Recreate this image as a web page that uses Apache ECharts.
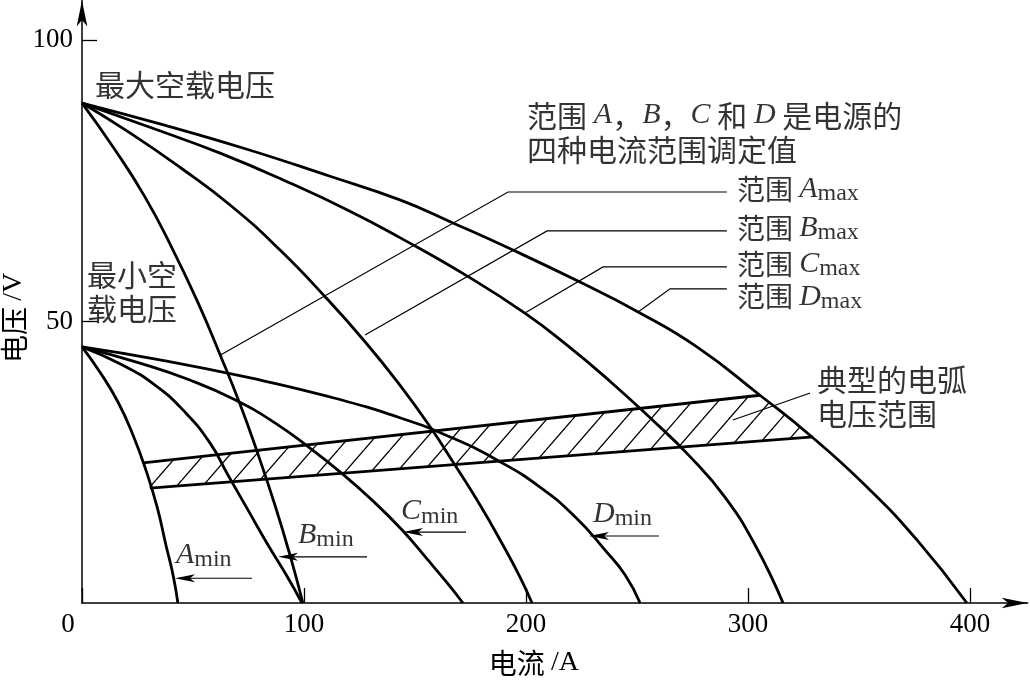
<!DOCTYPE html>
<html>
<head>
<meta charset="utf-8">
<script src="https://cdn.jsdelivr.net/npm/echarts@6.0.0/dist/echarts.min.js"></script>
<style>
html,body{margin:0;padding:0;background:#fff;}
#chart{width:1030px;height:683px;}
</style>
</head>
<body>
<div id="chart"></div>
<script>
// ---- tick labels ----
const xTickValues = [0, 100, 200, 300, 400];
const yTickValues = [50, 100];

// ---- power-source characteristics: current (A) / voltage (V) ----
const aMaxX = [0, 14, 28.4, 41, 52.3, 62.2, 71.2, 79.3, 86.9, 93.7, 99.5];
const aMaxY = [88.8, 81, 72.1, 62.7, 53.3, 44.1, 35.3, 26.4, 17.4, 8.5, 0];
const bMaxX = [0, 21.6, 44.1, 66.7, 89.2, 109.5, 127.5, 143.2, 156.8, 168, 179.3, 189.6, 197.3, 202.7];
const bMaxY = [88.8, 83.5, 77.4, 70.7, 62.7, 54.4, 46.4, 38.7, 31.3, 24.5, 17.4, 10.3, 4.6, 0];
const cMaxX = [0, 30.6, 62.2, 93.7, 120.7, 143.2, 173.4, 199.5, 218.5, 237.8, 255.9, 273.9, 289.6, 303.2, 315.8];
const cMaxY = [88.8, 84.5, 79.9, 74.6, 69.6, 64.9, 58.1, 51.5, 45.8, 39.4, 32.9, 26.0, 18.8, 10.3, 0];
const dMaxX = [0, 35.1, 74.3, 111.7, 143.2, 167.1, 194.1, 224.3, 250.5, 277, 305.4, 327.9, 353.6, 376.1, 398.6];
const dMaxY = [88.8, 85.1, 80.6, 75.8, 71.6, 67.5, 62.7, 57.0, 51.7, 45.5, 36.9, 29.8, 20.6, 11.2, 0];
const aMinX = [0, 8.1, 16.2, 23, 28.8, 33.8, 37.8, 41, 43.2];
const aMinY = [45.5, 41, 35.7, 29.8, 23.6, 17.1, 10.3, 5, 0];
const bMinX = [0, 17.1, 32.9, 46.4, 57.7, 65.8, 74.8, 83.8, 92.3, 99.1];
const bMinY = [45.5, 42.5, 38.7, 33.9, 28.4, 22.7, 16.5, 10.3, 4.8, 0];
const cMinX = [0, 26.1, 48.6, 68.9, 86.9, 102.7, 116.2, 130.6, 144.1, 155.9, 164.4, 171.6];
const cMinY = [45.5, 42.6, 39.6, 36.1, 32, 27.5, 23.3, 18.3, 13, 7.6, 3.6, 0];
const dMinX = [0, 35.1, 74.3, 111.7, 143.2, 165.8, 186.9, 206.3, 222.1, 235.6, 244.6, 251.4];
const dMinY = [45.5, 43.2, 40.1, 36.6, 32.9, 29.5, 25.4, 20.6, 15.3, 9.4, 5, 0];

// ---- typical arc-voltage band ----
const bandUpperX = [27.5, 305.4];
const bandUpperY = [24.9, 36.9];
const bandLowerX = [30.6, 329.3];
const bandLowerY = [20.4, 29.5];

// ---- annotation leader lines (data coordinates) ----
const leaderAmax = [[62.2, 44.0], [191.9, 73.0], [290.5, 73.0]];
const leaderBmax = [[127.5, 47.6], [209.5, 66.1], [290.5, 66.1]];
const leaderCmax = [[199.5, 51.5], [234.7, 59.7], [290.5, 59.7]];
const leaderDmax = [[250.5, 51.7], [264.9, 55.8], [290.5, 55.8]];
const leaderBand = [[293.2, 32.5], [328.0, 37.3]];
// min-setting arrows: [fromX, fromY, toX, toY]
const minArrows = [[76.6, 4.4, 41.9, 4.4], [128.4, 8.2, 88.3, 8.2], [173.0, 12.6, 144.6, 12.6], [259.9, 11.9, 228.4, 11.9]];

const zip = (xs, ys) => xs.map((x, i) => [x, ys[i]]);
const CJK = '"Noto Sans CJK SC"';
const SERIF = '"Liberation Serif"';

const rich = {
  h: {fontFamily: CJK, fontSize: 30, lineHeight: 34, color: '#000'},
  r: {fontFamily: CJK, fontSize: 28, lineHeight: 34, color: '#000'},
  i: {fontFamily: SERIF, fontStyle: 'italic', fontSize: 30, lineHeight: 34, color: '#000'},
  s: {fontFamily: SERIF, fontSize: 24, lineHeight: 18, verticalAlign: 'bottom', color: '#000'}
};

function hatchCanvas() {
  const w = 26, h = 30;
  const c = document.createElement('canvas');
  c.width = w; c.height = h;
  const g = c.getContext('2d');
  g.strokeStyle = '#000';
  g.lineWidth = 1.3;
  for (const dx of [-w, 0, w]) {
    g.beginPath(); g.moveTo(dx, h); g.lineTo(dx + w, 0); g.stroke();
  }
  return c;
}
const hatch = hatchCanvas();

const bandPoly = [
  [bandUpperX[0], bandUpperY[0]], [bandUpperX[1], bandUpperY[1]],
  [bandLowerX[1], bandLowerY[1]], [bandLowerX[0], bandLowerY[0]]
];

const curveStyle = {color: '#000', width: 2.8};
function curve(name, xs, ys) {
  return {
    name, type: 'line', data: zip(xs, ys), smooth: 0.5, showSymbol: false, symbol: 'none',
    lineStyle: curveStyle, z: 4, silent: true
  };
}

const last = arr => arr[arr.length - 1];
const notes = [
  {value: [5.9, 92.0], label: {formatter: '{h|最大空载电压}'}},
  {value: [2.3, 55.4], label: {formatter: '{h|最小空}\n{h|载电压}'}},
  {value: [200.5, 83.6], label: {formatter: '{h|范围 }{i|A}{h|，}{i|B}{h|，}{i|C}{h| 和 }{i|D}{h| 是电源的}\n{h|四种电流范围调定值}'}},
  {value: last(leaderAmax), label: {formatter: '{r|范围 }{i|A}{s|max}', offset: [10, -3]}},
  {value: last(leaderBmax), label: {formatter: '{r|范围 }{i|B}{s|max}', offset: [10, -3]}},
  {value: last(leaderCmax), label: {formatter: '{r|范围 }{i|C}{s|max}', offset: [10, -3]}},
  {value: last(leaderDmax), label: {formatter: '{r|范围 }{i|D}{s|max}', offset: [10, 8]}},
  {value: [331.1, 36.7], label: {formatter: '{h|典型的电弧}\n{h|电压范围}'}},
  {value: [42.3, 8.5], label: {formatter: '{i|A}{s|min}'}},
  {value: [97.3, 12.1], label: {formatter: '{i|B}{s|min}'}},
  {value: [143.7, 16.3], label: {formatter: '{i|C}{s|min}'}},
  {value: [230.2, 15.8], label: {formatter: '{i|D}{s|min}'}}
];

const chart = echarts.init(document.getElementById('chart'), null, {renderer: 'canvas'});
const X_MAX = 426, Y_MAX = 107;
const axisFont = {fontFamily: SERIF, fontSize: 27, color: '#000'};
const nameRich = {
  c: {fontFamily: CJK, fontSize: 28, lineHeight: 30, color: '#000'},
  l: {fontFamily: SERIF, fontSize: 28, lineHeight: 30, color: '#000'}
};

chart.setOption({
  animation: false,
  backgroundColor: '#fff',
  grid: {left: 82, right: 2.3, top: 0.6, bottom: 80, containLabel: false, outerBoundsMode: 'none'},
  xAxis: {
    type: 'value', min: 0, max: X_MAX,
    splitLine: {show: false},
    axisLine: {show: true, lineStyle: {color: '#000', width: 1.5}, symbol: ['none', 'arrow'], symbolSize: [8, 26]},
    axisTick: {show: true, inside: true, length: 15, customValues: xTickValues, lineStyle: {color: '#000', width: 1.3}},
    axisLabel: {
      show: true, margin: 8, customValues: xTickValues, ...axisFont,
      formatter: v => v === 0 ? '{z|0}' : String(v),
      rich: {z: {...axisFont, padding: [0, 28, 0, 0]}}
    },
    name: '{c|电流 }{l|/A}', nameLocation: 'middle', nameGap: 45, nameMoveOverlap: false,
    nameTextStyle: {padding: [0, 42, 0, 0], rich: nameRich}
  },
  yAxis: {
    type: 'value', min: 0, max: Y_MAX,
    splitLine: {show: false},
    axisLine: {show: true, lineStyle: {color: '#000', width: 1.5}, symbol: ['none', 'arrow'], symbolSize: [8, 26]},
    axisTick: {show: true, inside: true, length: 15, customValues: yTickValues, lineStyle: {color: '#000', width: 1.3}},
    axisLabel: {show: true, margin: 9, customValues: yTickValues, ...axisFont},
    name: '{c|电压 }{l|/V}', nameLocation: 'middle', nameGap: 53, nameRotate: 90, nameMoveOverlap: false,
    nameTextStyle: {padding: [0, 32, 0, 0], rich: nameRich}
  },
  series: [
    {
      type: 'custom', silent: true, z: 2,
      data: [[0, 0]],
      renderItem: (params, api) => ({
        type: 'polygon',
        shape: {points: bandPoly.map(p => api.coord(p))},
        style: {fill: {image: hatch, repeat: 'repeat'}, stroke: null}
      })
    },
    {type: 'line', data: zip(bandUpperX, bandUpperY), showSymbol: false, symbol: 'none', lineStyle: curveStyle, z: 4, silent: true},
    {type: 'line', data: zip(bandLowerX, bandLowerY), showSymbol: false, symbol: 'none', lineStyle: curveStyle, z: 4, silent: true},
    curve('Amax', aMaxX, aMaxY),
    curve('Bmax', bMaxX, bMaxY),
    curve('Cmax', cMaxX, cMaxY),
    curve('Dmax', dMaxX, dMaxY),
    curve('Amin', aMinX, aMinY),
    curve('Bmin', bMinX, bMinY),
    curve('Cmin', cMinX, cMinY),
    curve('Dmin', dMinX, dMinY),
    {
      type: 'lines', coordinateSystem: 'cartesian2d', polyline: true, silent: true, z: 3,
      lineStyle: {color: '#000', width: 1.2, opacity: 1},
      data: [leaderAmax, leaderBmax, leaderCmax, leaderDmax, leaderBand].map(c => ({coords: c}))
    },
    {
      type: 'custom', silent: true, z: 5,
      data: minArrows,
      encode: {x: [0, 2], y: [1, 3]},
      renderItem: (params, api) => {
        const a = api.coord([api.value(0), api.value(1)]);
        const b = api.coord([api.value(2), api.value(3)]);
        const ang = Math.atan2(b[1] - a[1], b[0] - a[0]);
        const ux = Math.cos(ang), uy = Math.sin(ang), px = -uy, py = ux;
        const L = 20, W = 4, N = 15;
        const base = [b[0] - ux * L, b[1] - uy * L];
        const notch = [b[0] - ux * N, b[1] - uy * N];
        return {
          type: 'group', children: [
            {type: 'line', shape: {x1: a[0], y1: a[1], x2: notch[0], y2: notch[1]}, style: {stroke: '#000', lineWidth: 1.2}},
            {type: 'polygon', shape: {points: [b, [base[0] + px * W, base[1] + py * W], notch, [base[0] - px * W, base[1] - py * W]]}, style: {fill: '#000'}}
          ]
        };
      }
    },
    {
      type: 'scatter', symbolSize: 0, silent: true, z: 6,
      label: {show: true, position: 'right', distance: 0, align: 'left', verticalAlign: 'middle', rich},
      data: notes
    }
  ]
});
</script>
</body>
</html>
